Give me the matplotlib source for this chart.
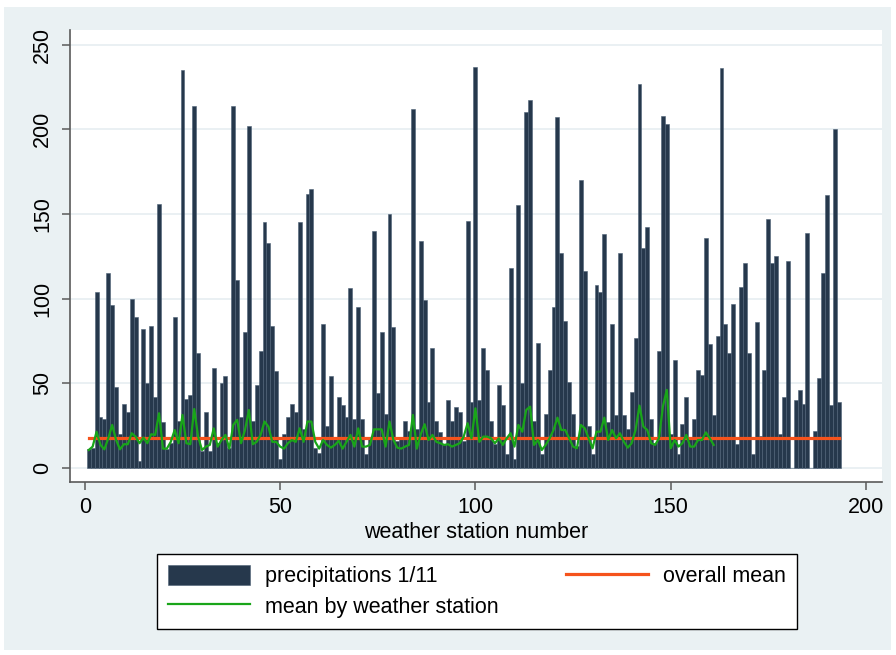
import numpy as np
import matplotlib
matplotlib.use("Agg")
import matplotlib.pyplot as plt
from matplotlib.patches import Rectangle

plt.rcParams['font.family'] = ['Liberation Sans', 'DejaVu Sans']

# precipitation on 1/11 for each weather station (1..193), 0 = no record
precip = [
    11, 12, 104, 30, 29, 115, 96, 48, 20, 38,
    33, 100, 89, 4, 82, 50, 84, 42, 156, 27,
    11, 15, 89, 28, 235, 41, 43, 214, 68, 10,
    33, 10, 59, 15, 50, 54, 12, 214, 111, 30,
    80, 202, 28, 49, 69, 145, 133, 84, 57, 5,
    20, 30, 38, 33, 145, 23, 162, 165, 12, 9,
    85, 25, 54, 18, 42, 37, 30, 106, 29, 95,
    29, 8, 18, 140, 44, 80, 32, 150, 83, 16,
    17, 28, 22, 212, 23, 134, 99, 39, 71, 28,
    21, 14, 40, 28, 36, 33, 16, 146, 39, 237,
    40, 71, 58, 28, 14, 49, 37, 8, 118, 5,
    155, 50, 210, 217, 28, 74, 8, 32, 58, 95,
    207, 127, 87, 51, 32, 13, 170, 116, 25, 8,
    108, 104, 138, 27, 85, 31, 127, 31, 23, 45,
    77, 227, 130, 142, 29, 15, 69, 208, 203, 20,
    64, 8, 26, 42, 18, 29, 58, 55, 136, 73,
    31, 78, 236, 85, 68, 97, 14, 107, 121, 68,
    8, 86, 19, 58, 147, 121, 125, 20, 42, 122,
    0, 40, 46, 38, 139, 0, 22, 53, 115, 161,
    37, 200, 39,
]
stations = np.arange(1, len(precip) + 1)

# mean by weather station (available for stations 1..161)
station_mean = [
    10.6, 12.6, 21.4, 13.6, 11.0, 17.5, 25.4, 16.5, 11.0, 14.0,
    14.0, 20.5, 18.5, 14.6, 17.9, 14.6, 19.9, 19.5, 32.3, 11.4,
    11.4, 15.4, 22.4, 14.6, 31.3, 14.6, 14.0, 34.8, 18.5, 10.6,
    12.6, 13.6, 23.4, 12.6, 16.5, 19.5, 11.4, 25.4, 28.4, 14.6,
    22.4, 34.2, 14.0, 15.4, 19.5, 27.4, 24.4, 15.4, 15.4, 12.6,
    11.4, 14.6, 16.5, 15.4, 23.4, 15.4, 27.4, 27.4, 15.4, 11.4,
    16.5, 13.6, 12.0, 13.6, 16.0, 11.4, 15.4, 19.5, 12.6, 23.4,
    12.6, 12.6, 13.6, 22.8, 22.8, 22.8, 12.6, 27.4, 16.5, 12.0,
    11.4, 12.6, 13.6, 31.3, 11.4, 19.9, 25.8, 16.5, 19.5, 15.4,
    14.6, 13.6, 14.0, 12.6, 13.6, 14.6, 18.5, 26.4, 17.5, 35.2,
    15.4, 18.5, 18.5, 17.5, 14.6, 17.5, 13.6, 17.5, 20.5, 12.6,
    25.4, 21.4, 34.2, 36.2, 13.6, 16.5, 10.6, 13.6, 17.5, 22.4,
    29.7, 22.4, 22.4, 17.5, 12.6, 11.6, 25.4, 23.4, 17.5, 11.6,
    21.4, 21.4, 29.7, 16.5, 22.4, 17.5, 20.5, 15.5, 12.0, 14.6,
    22.4, 36.8, 24.4, 22.4, 14.6, 13.6, 17.5, 36.2, 46.1, 11.6,
    16.5, 12.6, 14.6, 19.5, 12.6, 12.6, 16.5, 16.5, 21.0, 17.5,
    13.6,
]
mean_stations = np.arange(1, len(station_mean) + 1)

overall_mean = 17.5

x_ticks = [0, 50, 100, 150, 200]
y_ticks = [0, 50, 100, 150, 200, 250]

W, H = 896, 655
fig = plt.figure(figsize=(W / 100, H / 100), dpi=100, facecolor='white')
# stata style light background panel, kept behind the axes
bg = Rectangle((4 / W, 1 - 650 / H), 887 / W, 643 / H,
               transform=fig.transFigure, facecolor='#eaf1f3',
               edgecolor='none', zorder=-10)
fig.add_artist(bg)

ax = fig.add_axes([70 / W, 1 - 482 / H, 812 / W, 452 / H])
ax.set_facecolor('white')

ax.yaxis.grid(True, color='#e6eef1', linewidth=1.2, zorder=0)
ax.set_axisbelow(True)

bars = ax.bar(stations, precip, width=1.0, color='#26384c', edgecolor='#4c6075',
              linewidth=0.4, zorder=2, label='precipitations 1/11')
red, = ax.plot([stations[0], stations[-1]], [overall_mean, overall_mean],
               color='#f5531c', linewidth=2.3, zorder=3, label='overall mean')
green, = ax.plot(mean_stations, station_mean, color='#19a519', linewidth=1.6,
                 zorder=4, label='mean by weather station')

ax.set_xlim(-3.8, 204.1)
ax.set_ylim(-8.3, 258.6)
ax.set_xticks(x_ticks)
ax.set_yticks(y_ticks)

for s in ['top', 'right']:
    ax.spines[s].set_visible(False)
for s in ['left', 'bottom']:
    ax.spines[s].set_color('#5a5a5a')
    ax.spines[s].set_linewidth(1.2)

ax.tick_params(axis='both', colors='#5a5a5a', length=6, width=1.1,
               labelcolor='black', labelsize=15.5, pad=5)
ax.tick_params(axis='y', labelrotation=90, pad=6)
for lab in ax.get_yticklabels():
    lab.set_va('center')

ax.set_xlabel('weather station number', fontsize=15.5, labelpad=3)

leg = fig.legend([bars, green, red],
                 ['precipitations 1/11', 'mean by weather station', 'overall mean'],
                 ncol=2, loc='center', mode='expand',
                 bbox_to_anchor=(157 / W, 1 - 591.5 / H, 640 / W, 0),
                 borderaxespad=0,
                 fontsize=15.5, frameon=True, fancybox=False, framealpha=1,
                 edgecolor='black', handlelength=3.8, handleheight=1.05,
                 handletextpad=0.7, labelspacing=0.4, borderpad=0.5)
leg.get_frame().set_linewidth(1.0)

fig.savefig('out.png', dpi=100, facecolor=fig.get_facecolor())
